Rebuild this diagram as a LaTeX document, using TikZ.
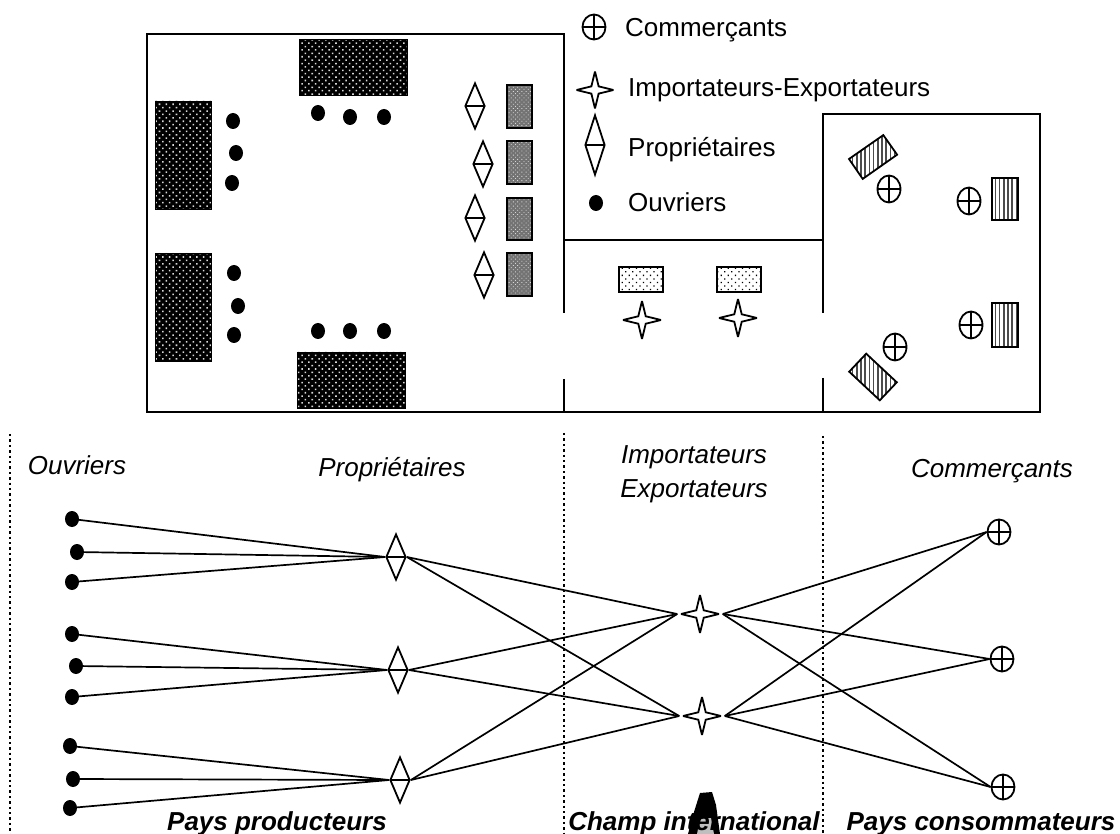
\documentclass[tikz,border=0pt]{standalone}
\usepackage{fontspec}
\setmainfont{Liberation Sans}
\usetikzlibrary{shapes.geometric,patterns.meta}
\tikzset{
  wall/.style={line width=2.2pt},
  sepline/.style={line width=2.4pt, dash pattern=on 2.4pt off 3pt},
  link/.style={line width=1.7pt},
  ouv/.style={ellipse, fill=black, minimum width=14pt, minimum height=16pt, inner sep=0pt},
  prop/.style={diamond, draw, fill=white, line width=1.8pt, minimum width=20pt, minimum height=46pt, inner sep=0pt,
    path picture={\draw[line width=1.6pt] (path picture bounding box.west) -- (path picture bounding box.east);}},
  impo/.style={star, star points=4, star point ratio=3.6, draw, fill=white, line width=1.8pt, miter limit=3, minimum size=38pt, inner sep=0pt},
  comm/.style={ellipse, draw, fill=white, line width=1.8pt, minimum width=23pt, minimum height=25pt, inner sep=0pt,
    path picture={\draw[line width=1.8pt] (path picture bounding box.north) -- (path picture bounding box.south)
      (path picture bounding box.west) -- (path picture bounding box.east);}},
  dark/.style={draw, line width=0.8pt, preaction={fill=black}, pattern={Dots[radius=1.1pt, distance=4.8pt, angle=45]}, pattern color=white!85!black},
  greybox/.style={draw, line width=1.8pt, preaction={fill=black!55}, pattern={Dots[radius=0.6pt, distance=3pt, angle=45]}, pattern color=white!85!black},
  lightbox/.style={draw, line width=1.8pt, preaction={fill=white}, pattern={Dots[radius=0.9pt, distance=5pt, angle=45]}, pattern color=black},
  hatchbox/.style={draw, line width=1.8pt, preaction={fill=white}, pattern={Lines[angle=90, distance=4.2pt, line width=1.7pt]}, pattern color=black!70},
  leg/.style={anchor=base west, font=\fontsize{26}{32}\selectfont, inner sep=0pt},
  ital/.style={anchor=base, font=\fontsize{26}{32}\selectfont\itshape, inner sep=0pt},
  boldit/.style={anchor=base, font=\fontsize{26}{32}\selectfont\bfseries\itshape, inner sep=0pt},
}
\begin{document}
\begin{tikzpicture}[x=1pt,y=-1pt]
\useasboundingbox[fill=white] (0,0) rectangle (1120,834);

% ---------------- plan (top) ----------------
\draw[wall] (564,313) -- (564,34) -- (147,34) -- (147,412) -- (1040,412) -- (1040,114) -- (823,114) -- (823,313);
\draw[wall] (564,240) -- (823,240);
\draw[wall] (564,379) -- (564,412);
\draw[wall] (823,378) -- (823,412);

% dark workshops
\path[dark] (299,39) rectangle (407,95);
\path[dark] (155,101) rectangle (211,209);
\path[dark] (155,253) rectangle (211,361);
\path[dark] (297,352) rectangle (405,408);

% workers in plan
\foreach \n/\x/\y in {a/233/121, b/236/153, c/232/183, d/318/113, e/350/117, f/384/117,
                      g/234/273, h/238/306, i/234/335, j/318/331, k/350/331, l/384/331}
  \node[ouv] (pw\n) at (\x,\y) {};

% owners and their grey boxes
\foreach \n/\x/\y in {1/475/106, 2/483/164, 3/475/218, 4/484/275}
  \node[prop] (pp\n) at (\x,\y) {};
\path[greybox] (507,85) rectangle (532,128);
\path[greybox] (507,141) rectangle (532,184);
\path[greybox] (507,198) rectangle (532,240);
\path[greybox] (507,253) rectangle (532,296);

% importers-exporters area
\path[lightbox] (619,267) rectangle (663,292);
\path[lightbox] (717,267) rectangle (761,292);
\node[impo] (pi1) at (642,320) {};
\node[impo] (pi2) at (738,318) {};

% traders area
\path[hatchbox] (849,159) -- (883.3,135.1) -- (897.1,154.7) -- (862.7,178.9) -- cycle;
\path[hatchbox] (849.2,371.7) -- (866.2,353.7) -- (896.8,382.3) -- (879.8,400.3) -- cycle;
\path[hatchbox] (992,178) rectangle (1018,220);
\path[hatchbox] (992,303) rectangle (1018,347);
\node[comm, minimum width=23pt, minimum height=27pt] (pc1) at (889,189) {};
\node[comm, minimum width=23pt, minimum height=27pt] (pc2) at (969,201) {};
\node[comm, minimum width=23pt, minimum height=27pt] (pc3) at (971,325) {};
\node[comm, minimum width=23pt, minimum height=27pt] (pc4) at (895,347) {};

% ---------------- legend ----------------
\node[comm] (lc) at (594,27) {};
\node[leg] (lct) at (625,37) {Commerçants};
\node[impo, minimum size=37pt] (li) at (595,90) {};
\node[leg] (lit) at (628,97) {Importateurs-Exportateurs};
\node[prop, minimum height=60pt] (lp) at (595,145) {};
\node[leg] (lpt) at (628,157) {Propriétaires};
\node[ouv] (lo) at (596,203) {};
\node[leg] (lot) at (628,212) {Ouvriers};

% ---------------- network (bottom) ----------------
\coordinate (s1a) at (10,434);  \coordinate (s1b) at (10,834);
\coordinate (s2a) at (564,433); \coordinate (s2b) at (564,834);
\coordinate (s3a) at (823,436); \coordinate (s3b) at (823,834);
\draw[sepline] (s1a) -- (s1b);
\draw[sepline] (s2a) -- (s2b);
\draw[sepline] (s3a) -- (s3b);

\node[ital] (hO) at (77,475) {Ouvriers};
\node[ital] (hP) at (392,476) {Propriétaires};
\node[ital] (hI) at (694,464) {Importateurs};
\node[ital] (hE) at (694,497) {Exportateurs};
\node[ital] (hC) at (992,477) {Commerçants};

\foreach \n/\x/\y in {1/72/519, 2/77/552, 3/72/582, 4/72/634, 5/76/666, 6/72/697, 7/70/746, 8/73/779, 9/70/808}
  \node[ouv] (o\n) at (\x,\y) {};
\node[prop] (d1) at (396,557) {};
\node[prop] (d2) at (398,670) {};
\node[prop] (d3) at (400,780) {};
\node[impo] (t1) at (700,614) {};
\node[impo] (t2) at (702,716) {};
\node[comm] (c1) at (999,532) {};
\node[comm] (c2) at (1002,659) {};
\node[comm] (c3) at (1003,787) {};

\foreach \o/\d in {1/1,2/1,3/1,4/2,5/2,6/2,7/3,8/3,9/3}
  \draw[link] (o\o.center) -- (d\d.west);
\foreach \d in {1,2,3}
  \foreach \t in {1,2}
    \draw[link] (d\d.east) -- (t\t.west);
\foreach \t in {1,2}
  \foreach \c in {1,2,3}
    \draw[link] (t\t.east) -- (c\c.west);

% blot over the bottom label
\fill[black] (700,793) -- (712,792) -- (716,805) -- (720,834) -- (688,834) -- (694,812) -- cycle;
\fill[black!25] (700,819) -- (711,818) -- (714,834) -- (697,834) -- cycle;

\node[boldit] (fP) at (277,830) {Pays producteurs};
\node[boldit] (fC) at (694,830) {Champ international};
\node[boldit] (fK) at (981,830) {Pays consommateurs};
\end{tikzpicture}
\end{document}
